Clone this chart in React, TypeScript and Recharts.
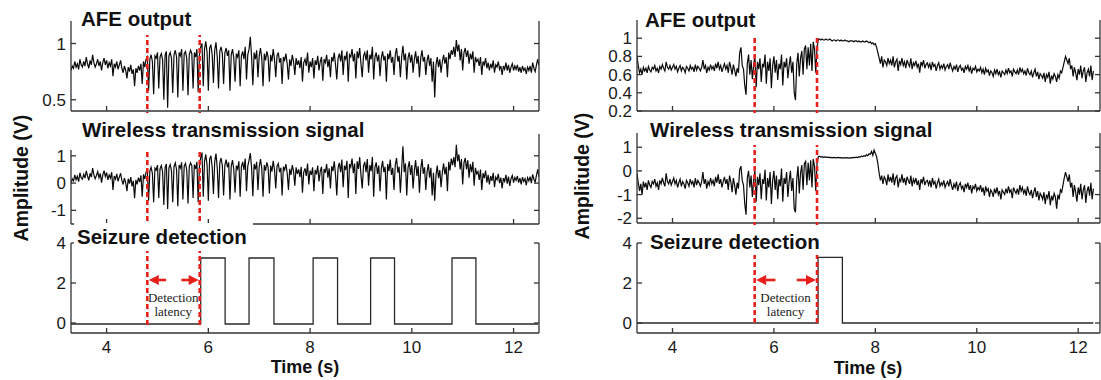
import { LineChart, Line, XAxis, YAxis, ReferenceLine, ReferenceDot } from "recharts"

// ─── Style ─────────────────────────────────────────────────────────────────────

const SANS = '"Liberation Sans", Arial, sans-serif'
const SERIF = '"Liberation Serif", "Times New Roman", serif'
const RED = "#e8201c"
const INK = "#0a0a0a"
const FRAME = "#333"

// ─── Data ──────────────────────────────────────────────────────────────────────

// sampling grid of the recorded traces (s)
const T0 = 3.3
const DT = 0.025

const X_TICKS = [4, 6, 8, 10, 12]

// one row = 0.25 s
const LEFT_AFE = [
    0.76, 0.80, 0.78, 0.84, 0.79, 0.82, 0.77, 0.86, 0.81, 0.79,
    0.84, 0.80, 0.88, 0.82, 0.78, 0.85, 0.81, 0.90, 0.83, 0.79,
    0.82, 0.86, 0.80, 0.84, 0.76, 0.83, 0.87, 0.81, 0.85, 0.78,
    0.83, 0.80, 0.86, 0.71, 0.82, 0.79, 0.84, 0.77, 0.81, 0.85,
    0.78, 0.74, 0.80, 0.76, 0.69, 0.79, 0.75, 0.81, 0.73, 0.77,
    0.62, 0.78, 0.74, 0.80, 0.76, 0.82, 0.64, 0.84, 0.79, 0.86,
    0.88, 0.58, 0.86, 0.90, 0.84, 0.55, 0.89, 0.87, 0.92, 0.60,
    0.88, 0.91, 0.86, 0.50, 0.90, 0.93, 0.43, 0.89, 0.92, 0.87,
    0.56, 0.90, 0.94, 0.88, 0.52, 0.92, 0.89, 0.95, 0.58, 0.91,
    0.93, 0.87, 0.54, 0.90, 0.94, 0.91, 0.60, 0.92, 0.88, 0.95,
    0.57, 0.90, 0.97, 1.00, 0.62, 0.95, 1.02, 0.92, 0.58, 0.96,
    0.99, 0.90, 0.65, 0.94, 1.01, 0.88, 0.60, 0.93, 0.97, 0.91,
    0.64, 0.92, 0.96, 0.89, 0.94, 0.58, 0.90, 0.95, 0.87, 0.66,
    0.91, 0.88, 0.94, 0.62, 0.89, 0.93, 0.86, 0.97, 0.68, 0.90,
    0.95, 1.06, 0.88, 0.63, 0.92, 0.86, 0.94, 0.70, 0.89, 0.96,
    0.87, 0.62, 0.91, 0.85, 0.93, 0.88, 0.66, 0.90, 0.84, 0.95,
    0.86, 0.70, 0.89, 0.92, 0.83, 0.87, 0.64, 0.88, 0.85, 0.91,
    0.82, 0.68, 0.86, 0.80, 0.90, 0.84, 0.72, 0.87, 0.81, 0.85,
    0.78, 0.88, 0.66, 0.83, 0.86, 0.80, 0.92, 0.74, 0.84, 0.79,
    0.87, 0.69, 0.85, 0.81, 0.89, 0.76, 0.84, 0.88, 0.67, 0.86,
    0.83, 0.90, 0.79, 0.86, 0.70, 0.88, 0.84, 0.92, 0.81, 0.68,
    0.87, 0.91, 0.84, 0.94, 0.72, 0.89, 0.86, 0.93, 0.66, 0.90,
    0.88, 0.95, 0.84, 0.91, 0.69, 0.93, 0.87, 0.96, 0.82, 0.70,
    0.89, 0.92, 0.85, 0.94, 0.74, 0.90, 0.86, 0.97, 0.68, 0.88,
    0.92, 0.84, 0.90, 0.71, 0.87, 0.93, 0.85, 0.89, 0.66, 0.91,
    0.86, 0.94, 0.83, 0.88, 0.72, 0.90, 0.96, 0.84, 0.89, 0.70,
    0.88, 0.98, 0.85, 0.91, 0.68, 0.87, 0.92, 0.83, 0.90, 0.74,
    0.86, 0.93, 0.82, 0.89, 0.70, 0.87, 0.94, 0.84, 0.88, 0.72,
    0.85, 0.90, 0.80, 0.87, 0.66, 0.84, 0.52, 0.81, 0.88, 0.79,
    0.86, 0.74, 0.84, 0.90, 0.82, 0.88, 0.70, 0.92, 0.86, 0.94,
    0.90, 0.97, 0.88, 1.03, 0.93, 0.99, 0.85, 0.95, 0.76, 0.92,
    0.96, 0.88, 0.94, 0.82, 0.91, 0.86, 0.93, 0.74, 0.88, 0.84,
    0.86, 0.80, 0.88, 0.72, 0.84, 0.81, 0.87, 0.78, 0.83, 0.76,
    0.82, 0.78, 0.85, 0.74, 0.81, 0.79, 0.84, 0.77, 0.80, 0.72,
    0.80, 0.77, 0.83, 0.76, 0.81, 0.74, 0.79, 0.82, 0.76, 0.80,
    0.77, 0.81, 0.75, 0.79, 0.74, 0.80, 0.76, 0.78, 0.73, 0.79,
    0.76, 0.80, 0.74, 0.83, 0.78, 0.75, 0.81, 0.86, 0.80,
]

const LEFT_WIRELESS = [
    0.00, 0.15, 0.08, 0.30, 0.12, 0.25, 0.05, 0.38, 0.20, 0.14,
    0.32, 0.18, 0.45, 0.26, 0.10, 0.36, 0.22, 0.55, 0.30, 0.16,
    0.28, 0.42, 0.20, 0.35, 0.02, 0.30, 0.46, 0.24, 0.38, 0.12,
    0.30, 0.18, 0.40, -0.25, 0.26, 0.14, 0.34, 0.06, 0.22, 0.36,
    0.10, -0.05, 0.18, 0.02, -0.30, 0.16, -0.02, 0.22, -0.12, 0.08,
    -0.55, 0.12, -0.05, 0.20, 0.04, 0.28, -0.50, 0.32, 0.15, 0.40,
    0.50, -0.65, 0.44, 0.58, 0.36, -0.70, 0.55, 0.48, 0.66, -0.55,
    0.52, 0.64, 0.42, -0.80, 0.58, 0.70, -0.95, 0.56, 0.68, 0.46,
    -0.70, 0.60, 0.74, 0.50, -0.85, 0.66, 0.55, 0.76, -0.60, 0.62,
    0.72, 0.48, -0.75, 0.60, 0.74, 0.64, -0.55, 0.68, 0.52, 0.78,
    -0.70, 0.62, 0.95, 1.12, -0.50, 0.80, 1.05, 0.66, -0.65, 0.88,
    1.00, 0.60, -0.40, 0.78, 1.08, 0.56, -0.55, 0.74, 0.92, 0.64,
    -0.45, 0.66, 0.86, 0.58, 0.76, -0.60, 0.62, 0.84, 0.50, -0.35,
    0.64, 0.52, 0.80, -0.50, 0.60, 0.78, 0.48, 0.90, -0.30, 0.62,
    0.84, 1.10, 0.56, -0.48, 0.70, 0.50, 0.78, -0.25, 0.60, 0.88,
    0.54, -0.50, 0.66, 0.46, 0.76, 0.58, -0.38, 0.64, 0.42, 0.82,
    0.50, -0.20, 0.62, 0.72, 0.40, 0.56, -0.45, 0.60, 0.48, 0.70,
    0.36, -0.25, 0.52, 0.30, 0.66, 0.44, -0.10, 0.58, 0.34, 0.50,
    0.22, 0.60, -0.35, 0.40, 0.54, 0.26, 0.72, -0.05, 0.46, 0.30,
    0.58, -0.30, 0.48, 0.32, 0.64, 0.06, 0.44, 0.60, -0.40, 0.52,
    0.38, 0.70, 0.20, 0.54, -0.20, 0.62, 0.44, 0.80, 0.30, -0.45,
    0.56, 0.74, 0.40, 0.86, -0.15, 0.64, 0.48, 0.82, -0.55, 0.70,
    0.58, 0.90, 0.36, 0.72, -0.40, 0.80, 0.52, 0.95, 0.30, -0.20,
    0.62, 0.78, 0.40, 0.88, -0.10, 0.66, 0.44, 0.96, -0.50, 0.58,
    0.76, 0.34, 0.64, -0.30, 0.52, 0.82, 0.40, 0.60, -0.60, 0.70,
    0.44, 0.86, 0.30, 0.56, -0.25, 0.68, 0.92, 0.38, 0.60, -0.35,
    0.52, 1.35, 0.40, 0.72, -0.45, 0.56, 0.80, 0.30, 0.66, -0.20,
    0.46, 0.84, 0.26, 0.62, -0.35, 0.50, 0.88, 0.34, 0.58, -0.25,
    0.42, 0.70, 0.20, 0.56, -0.45, 0.38, -0.65, 0.28, 0.64, 0.18,
    0.48, -0.15, 0.40, 0.72, 0.32, 0.60, -0.30, 0.78, 0.46, 0.90,
    0.66, 0.95, 0.58, 1.40, 0.80, 1.05, 0.50, 0.88, -0.05, 0.74,
    0.92, 0.50, 0.84, 0.20, 0.70, 0.40, 0.78, -0.10, 0.56, 0.34,
    0.42, 0.12, 0.50, -0.25, 0.36, 0.18, 0.46, 0.02, 0.30, -0.05,
    0.26, 0.08, 0.38, -0.15, 0.22, 0.12, 0.34, 0.00, 0.20, -0.20,
    0.18, 0.06, 0.30, -0.02, 0.24, -0.10, 0.16, 0.28, 0.02, 0.20,
    0.10, 0.26, 0.02, 0.18, -0.05, 0.22, 0.06, 0.16, -0.08, 0.20,
    0.08, 0.24, 0.00, 0.32, 0.14, 0.04, 0.28, 0.50, 0.22,
]

const RIGHT_AFE = [
    0.80, 0.70, 0.62, 0.66, 0.60, 0.68, 0.64, 0.67, 0.62, 0.69,
    0.65, 0.63, 0.68, 0.66, 0.70, 0.64, 0.67, 0.62, 0.69, 0.66,
    0.71, 0.67, 0.64, 0.74, 0.68, 0.66, 0.70, 0.65, 0.68, 0.71,
    0.66, 0.69, 0.63, 0.67, 0.70, 0.64, 0.68, 0.66, 0.62, 0.69,
    0.67, 0.64, 0.70, 0.66, 0.68, 0.63, 0.71, 0.65, 0.69, 0.67,
    0.64, 0.68, 0.76, 0.66, 0.70, 0.62, 0.68, 0.65, 0.71, 0.66,
    0.69, 0.64, 0.72, 0.67, 0.74, 0.66, 0.70, 0.63, 0.68, 0.72,
    0.66, 0.70, 0.62, 0.74, 0.68, 0.60, 0.71, 0.65, 0.58, 0.67,
    0.62, 0.84, 0.90, 0.70, 0.66, 0.48, 0.38, 0.72, 0.82, 0.60,
    0.76, 0.55, 0.70, 0.80, 0.46, 0.74, 0.66, 0.78, 0.52, 0.72,
    0.68, 0.82, 0.50, 0.74, 0.64, 0.78, 0.45, 0.70, 0.80, 0.62,
    0.76, 0.54, 0.72, 0.66, 0.82, 0.48, 0.74, 0.68, 0.78, 0.56,
    0.70, 0.80, 0.62, 0.74, 0.40, 0.32, 0.72, 0.84, 0.58, 0.78,
    0.86, 0.60, 0.88, 0.92, 0.66, 0.90, 0.70, 0.94, 0.64, 0.96,
    0.88, 0.62, 0.90, 0.99, 0.99, 0.98, 0.99, 0.98, 0.98, 0.99,
    0.98, 0.98, 0.99, 0.98, 0.97, 0.98, 0.98, 0.97, 0.98, 0.98,
    0.97, 0.98, 0.97, 0.97, 0.98, 0.97, 0.97, 0.96, 0.97, 0.97,
    0.97, 0.96, 0.97, 0.97, 0.96, 0.97, 0.96, 0.96, 0.97, 0.96,
    0.96, 0.97, 0.96, 0.95, 0.96, 0.94, 0.95, 0.93, 0.94, 0.90,
    0.84, 0.78, 0.72, 0.80, 0.68, 0.76, 0.74, 0.70, 0.78, 0.72,
    0.76, 0.70, 0.80, 0.68, 0.74, 0.77, 0.64, 0.75, 0.71, 0.78,
    0.70, 0.74, 0.67, 0.76, 0.72, 0.69, 0.78, 0.66, 0.73, 0.70,
    0.75, 0.68, 0.72, 0.62, 0.74, 0.70, 0.76, 0.67, 0.71, 0.73,
    0.68, 0.72, 0.65, 0.74, 0.69, 0.71, 0.64, 0.70, 0.73, 0.66,
    0.70, 0.67, 0.72, 0.65, 0.69, 0.71, 0.66, 0.73, 0.68, 0.64,
    0.69, 0.66, 0.71, 0.63, 0.68, 0.70, 0.65, 0.67, 0.62, 0.69,
    0.66, 0.70, 0.64, 0.68, 0.61, 0.67, 0.65, 0.69, 0.63, 0.66,
    0.64, 0.68, 0.62, 0.66, 0.60, 0.67, 0.63, 0.65, 0.59, 0.64,
    0.62, 0.58, 0.65, 0.61, 0.66, 0.60, 0.63, 0.57, 0.64, 0.62,
    0.60, 0.65, 0.61, 0.67, 0.62, 0.64, 0.58, 0.66, 0.63, 0.61,
    0.65, 0.60, 0.68, 0.63, 0.66, 0.61, 0.64, 0.59, 0.67, 0.62,
    0.60, 0.64, 0.57, 0.62, 0.66, 0.58, 0.63, 0.55, 0.61, 0.59,
    0.56, 0.62, 0.52, 0.60, 0.57, 0.63, 0.50, 0.59, 0.55, 0.61,
    0.58, 0.52, 0.60, 0.56, 0.64, 0.62, 0.68, 0.74, 0.80, 0.76,
    0.72, 0.78, 0.66, 0.70, 0.58, 0.68, 0.62, 0.54, 0.66, 0.60,
    0.70, 0.56, 0.64, 0.68, 0.52, 0.62, 0.66, 0.58, 0.70, 0.54,
    0.64,
]

const RIGHT_WIRELESS = [
    -0.10, -0.50, -0.85, -0.55, -1.00, -0.45, -0.70, -0.50, -0.80, -0.40,
    -0.60, -0.70, -0.45, -0.55, -0.35, -0.65, -0.50, -0.80, -0.40, -0.55,
    -0.30, -0.50, -0.65, -0.10, -0.45, -0.55, -0.35, -0.60, -0.45, -0.30,
    -0.55, -0.40, -0.70, -0.50, -0.35, -0.65, -0.45, -0.55, -0.75, -0.40,
    -0.50, -0.65, -0.35, -0.55, -0.45, -0.70, -0.30, -0.60, -0.40, -0.50,
    -0.65, -0.45, -0.05, -0.55, -0.35, -0.75, -0.45, -0.60, -0.30, -0.55,
    -0.40, -0.65, -0.25, -0.50, -0.15, -0.55, -0.35, -0.70, -0.45, -0.25,
    -0.55, -0.35, -0.80, -0.20, -0.45, -0.90, -0.30, -0.60, -1.00, -0.50,
    -0.75, 0.05, 0.20, -0.40, -0.60, -1.40, -1.85, -0.30, 0.00, -0.70,
    -0.20, -1.10, -0.40, 0.00, -1.30, -0.25, -0.60, -0.10, -1.20, -0.35,
    -0.55, 0.05, -1.25, -0.30, -0.70, -0.05, -1.40, -0.40, 0.00, -0.80,
    -0.20, -1.20, -0.35, -0.65, 0.10, -1.30, -0.30, -0.55, -0.05, -1.10,
    -0.45, 0.00, -0.85, -0.30, -1.60, -1.75, -0.35, 0.20, -0.95, -0.10,
    0.25, -0.80, 0.30, 0.40, -0.60, 0.35, -0.40, 0.45, -0.70, 0.50,
    0.20, -0.85, 0.30, 0.60, 0.62, 0.58, 0.60, 0.57, 0.59, 0.58,
    0.57, 0.58, 0.56, 0.57, 0.55, 0.57, 0.56, 0.55, 0.56, 0.57,
    0.55, 0.56, 0.55, 0.54, 0.56, 0.55, 0.56, 0.54, 0.55, 0.56,
    0.55, 0.57, 0.56, 0.58, 0.56, 0.60, 0.58, 0.62, 0.60, 0.64,
    0.62, 0.68, 0.64, 0.72, 0.70, 0.82, 0.66, 0.88, 0.74, 0.60,
    0.30, -0.10, -0.40, -0.20, -0.55, -0.25, -0.35, -0.60, -0.15, -0.45,
    -0.25, -0.50, -0.10, -0.60, -0.30, -0.20, -0.70, -0.35, -0.45, -0.15,
    -0.50, -0.30, -0.60, -0.25, -0.40, -0.55, -0.20, -0.65, -0.35, -0.50,
    -0.30, -0.60, -0.40, -0.80, -0.35, -0.50, -0.25, -0.60, -0.45, -0.40,
    -0.60, -0.40, -0.70, -0.30, -0.55, -0.45, -0.75, -0.50, -0.35, -0.65,
    -0.50, -0.60, -0.40, -0.70, -0.55, -0.45, -0.65, -0.35, -0.60, -0.80,
    -0.55, -0.70, -0.45, -0.85, -0.60, -0.50, -0.75, -0.65, -0.90, -0.55,
    -0.70, -0.50, -0.80, -0.60, -0.95, -0.65, -0.75, -0.55, -0.85, -0.70,
    -0.80, -0.60, -0.90, -0.70, -1.05, -0.65, -0.85, -0.75, -1.10, -0.80,
    -0.90, -1.10, -0.75, -0.95, -0.70, -1.00, -0.85, -1.20, -0.80, -0.90,
    -1.00, -0.75, -0.95, -0.65, -0.90, -0.80, -1.15, -0.70, -0.85, -0.95,
    -0.75, -1.00, -0.60, -0.85, -0.70, -0.95, -0.80, -1.05, -0.65, -0.90,
    -1.00, -0.80, -1.15, -0.90, -0.70, -1.10, -0.85, -1.25, -0.95, -1.05,
    -1.20, -0.90, -1.40, -1.00, -1.15, -0.85, -1.45, -1.05, -1.25, -0.95,
    -1.10, -1.60, -1.00, -1.20, -0.80, -0.90, -0.60, -0.30, -0.05, -0.25,
    -0.45, -0.15, -0.70, -0.50, -1.10, -0.60, -0.90, -1.30, -0.70, -1.00,
    -0.55, -1.20, -0.80, -0.60, -1.35, -0.85, -0.65, -1.05, -0.50, -1.20,
    -0.75,
]

// seizure detector output: pulse edges (s) and levels (V)
const LEFT_PULSE_ON = [5.85, 6.8, 8.06, 9.19, 10.79]
const LEFT_PULSE_OFF = [6.33, 7.29, 8.54, 9.66, 11.26]
const LEFT_LOW = -0.05
const LEFT_HIGH = 3.25
const LEFT_END = 12.48

const RIGHT_PULSE_ON = [6.87]
const RIGHT_PULSE_OFF = [7.35]
const RIGHT_LOW = 0
const RIGHT_HIGH = 3.28
const RIGHT_END = 12.3

// seizure onset / detection instants (s)
const LEFT_MARKERS = [4.8, 5.83]
const RIGHT_MARKERS = [5.62, 6.85]

// latency arrows: tail -> tip (s), drawn at ARROW_LEVEL (V)
const LEFT_ARROW_TAIL = [5.17, 5.47]
const LEFT_ARROW_TIP = [4.83, 5.81]
const RIGHT_ARROW_TAIL = [6.03, 6.45]
const RIGHT_ARROW_TIP = [5.65, 6.83]
const ARROW_LEVEL = 2.15

// "Detection latency" note anchors (s, V)
const LEFT_NOTE_T = 5.31
const RIGHT_NOTE_T = 6.23
const NOTE_LINES = ["Detection", "latency"]
const NOTE_LEVELS = [1.3, 0.56]

// ─── Helpers ───────────────────────────────────────────────────────────────────

type Row = { t: number; v: number }

const toRows = (values: number[]): Row[] =>
    values.map((v, i) => ({ t: +(T0 + i * DT).toFixed(3), v }))

const stepRows = (on: number[], off: number[], low: number, high: number, end: number): Row[] => {
    const rows: Row[] = [{ t: T0, v: low }]
    on.forEach((t, i) => {
        rows.push({ t, v: low }, { t, v: high }, { t: off[i], v: high }, { t: off[i], v: low })
    })
    rows.push({ t: end, v: low })
    return rows
}

type Box = { left: number; top: number; width: number; height: number }

const YW = 48
const PAD = 12

const tickText = { fill: "#1a1a1a", fontSize: 17, fontFamily: SANS }
const frameLine = { stroke: FRAME, strokeWidth: 1.3 }
const blank = () => ""

function Arrow(props: any) {
    const { x1, y1, x2, y2 } = props
    const dir = Math.sign(x2 - x1)
    return (
        <g>
            <line x1={x1} y1={y1} x2={x2 - dir * 7} y2={y2} stroke={RED} strokeWidth={2.6} />
            <polygon
                points={`${x2},${y2} ${x2 - dir * 10},${y2 - 5} ${x2 - dir * 10},${y2 + 5}`}
                fill={RED}
            />
        </g>
    )
}

type SubplotProps = {
    box: Box
    data: Row[]
    xDomain: [number, number]
    yDomain: [number, number]
    yTicks: number[]
    showX?: boolean
    stroke?: string
    strokeWidth?: number
    children?: React.ReactNode
}

function Subplot({ box, data, xDomain, yDomain, yTicks, showX, stroke = INK, strokeWidth = 1.2, children }: SubplotProps) {
    const xh = showX ? 32 : PAD
    return (
        <div style={{ position: "absolute", left: box.left - YW, top: box.top - PAD }}>
            <LineChart
                width={YW + box.width + 1 + 4}
                height={PAD + box.height + xh}
                data={data}
                margin={{ top: PAD, right: 4, bottom: 0, left: 0 }}
            >
                <XAxis
                    dataKey="t"
                    type="number"
                    domain={xDomain}
                    ticks={X_TICKS}
                    interval={0}
                    allowDataOverflow
                    height={xh}
                    tickSize={-5}
                    tickMargin={13}
                    axisLine={frameLine}
                    tickLine={frameLine}
                    tick={tickText}
                    tickFormatter={showX ? (v: number) => String(v) : blank}
                />
                <XAxis
                    xAxisId="top"
                    orientation="top"
                    type="number"
                    domain={xDomain}
                    ticks={X_TICKS}
                    interval={0}
                    allowDataOverflow
                    height={0}
                    tickSize={-5}
                    axisLine={frameLine}
                    tickLine={frameLine}
                    tickFormatter={blank}
                />
                <YAxis
                    type="number"
                    domain={yDomain}
                    ticks={yTicks}
                    interval={0}
                    allowDataOverflow
                    width={YW}
                    tickSize={-5}
                    tickMargin={10}
                    axisLine={frameLine}
                    tickLine={frameLine}
                    tick={tickText}
                />
                <YAxis
                    yAxisId="r"
                    orientation="right"
                    type="number"
                    domain={yDomain}
                    ticks={yTicks}
                    interval={0}
                    allowDataOverflow
                    width={1}
                    tickSize={-5}
                    axisLine={frameLine}
                    tickLine={frameLine}
                    tickFormatter={blank}
                />
                <Line
                    dataKey="v"
                    type="linear"
                    stroke={stroke}
                    strokeWidth={strokeWidth}
                    dot={false}
                    activeDot={false}
                    isAnimationActive={false}
                />
                {children}
            </LineChart>
        </div>
    )
}

// red dashed onset/detection markers running through the three stacked axes
function Markers({ left, top, width, height, xDomain, markers }: {
    left: number; top: number; width: number; height: number; xDomain: [number, number]; markers: number[]
}) {
    return (
        <div style={{ position: "absolute", left, top }}>
            <LineChart width={width} height={height} data={[]} margin={{ top: 0, right: 0, bottom: 0, left: 0 }}>
                <XAxis type="number" dataKey="t" domain={xDomain} allowDataOverflow hide />
                <YAxis type="number" domain={[0, 1]} allowDataOverflow hide />
                {markers.map((m) => (
                    <ReferenceLine key={m} x={m} stroke={RED} strokeWidth={2.6} strokeDasharray="5 3" />
                ))}
            </LineChart>
        </div>
    )
}

type TitleProps = {
    text: string
    textLeft: number
    capTop: number
    mask: { left: number; top: number; right: number; bottom: number }
}

function Title({ text, textLeft, capTop, mask }: TitleProps) {
    return (
        <div
            style={{
                position: "absolute",
                left: mask.left,
                top: mask.top,
                width: mask.right - mask.left,
                height: mask.bottom - mask.top,
                background: "#fff",
            }}
        >
            <div
                style={{
                    position: "absolute",
                    left: textLeft - mask.left,
                    top: capTop - 2.7 - mask.top,
                    fontFamily: SANS,
                    fontWeight: 700,
                    fontSize: 20.5,
                    lineHeight: 1,
                    whiteSpace: "nowrap",
                    color: "#111",
                }}
            >
                {text}
            </div>
        </div>
    )
}

function YLabel({ cx, cy }: { cx: number; cy: number }) {
    return (
        <div
            style={{
                position: "absolute",
                left: cx,
                top: cy,
                transform: "translate(-50%, -50%) rotate(-90deg)",
                fontFamily: SANS,
                fontWeight: 700,
                fontSize: 19.5,
                whiteSpace: "nowrap",
                color: "#111",
            }}
        >
            Amplitude (V)
        </div>
    )
}

function XLabel({ cx, cy }: { cx: number; cy: number }) {
    return (
        <div
            style={{
                position: "absolute",
                left: cx,
                top: cy,
                transform: "translate(-50%, -50%)",
                fontFamily: SANS,
                fontWeight: 700,
                fontSize: 18,
                whiteSpace: "nowrap",
                color: "#111",
            }}
        >
            Time (s)
        </div>
    )
}

function LatencyNote({ tails, tips, noteT }: { tails: number[]; tips: number[]; noteT: number }) {
    return (
        <>
            {tails.map((tail, i) => (
                <ReferenceLine
                    key={`a${i}`}
                    segment={[{ x: tail, y: ARROW_LEVEL }, { x: tips[i], y: ARROW_LEVEL }]}
                    stroke={RED}
                    shape={Arrow}
                />
            ))}
            {NOTE_LINES.map((line, i) => (
                <ReferenceDot
                    key={line}
                    x={noteT}
                    y={NOTE_LEVELS[i]}
                    r={0}
                    fill="none"
                    stroke="none"
                    label={{ value: line, position: "center", fontSize: 13, fontFamily: SERIF, fill: "#222" }}
                />
            ))}
        </>
    )
}

// ─── Component ─────────────────────────────────────────────────────────────────

const LEFT_X: [number, number] = [3.3, 12.5]
const RIGHT_X: [number, number] = [3.3, 12.43]

export default function App() {
    const leftAfe = toRows(LEFT_AFE)
    const leftWireless = toRows(LEFT_WIRELESS)
    const leftSeizure = stepRows(LEFT_PULSE_ON, LEFT_PULSE_OFF, LEFT_LOW, LEFT_HIGH, LEFT_END)
    const rightAfe = toRows(RIGHT_AFE)
    const rightWireless = toRows(RIGHT_WIRELESS)
    const rightSeizure = stepRows(RIGHT_PULSE_ON, RIGHT_PULSE_OFF, RIGHT_LOW, RIGHT_HIGH, RIGHT_END)

    const lw = 468
    const rw = 463

    return (
        <div
            style={{
                position: "absolute",
                left: 0,
                top: 0,
                width: 1101,
                height: 380,
                overflow: "hidden",
                background: "#fff",
            }}
        >
            {/* left panel */}
            <Subplot box={{ left: 71, top: 21, width: lw, height: 90 }} data={leftAfe} xDomain={LEFT_X} yDomain={[0.4, 1.2]} yTicks={[0.5, 1]} />
            <Subplot box={{ left: 71, top: 134, width: lw, height: 90 }} data={leftWireless} xDomain={LEFT_X} yDomain={[-1.5, 1.8]} yTicks={[-1, 0, 1]} />
            <Subplot box={{ left: 71, top: 243, width: lw, height: 90 }} data={leftSeizure} xDomain={LEFT_X} yDomain={[-0.5, 4]} yTicks={[0, 2, 4]} showX stroke="#2a2a2a" strokeWidth={1.3}>
                <LatencyNote tails={LEFT_ARROW_TAIL} tips={LEFT_ARROW_TIP} noteT={LEFT_NOTE_T} />
            </Subplot>
            <Markers left={71} top={35} width={lw} height={290} xDomain={LEFT_X} markers={LEFT_MARKERS} />
            <Title text="AFE output" textLeft={81} capTop={12} mask={{ left: 77, top: 5, right: 199, bottom: 29 }} />
            <Title text="Wireless transmission signal" textLeft={82} capTop={123} mask={{ left: 66, top: 113, right: 369, bottom: 150 }} />
            <Title text="Seizure detection" textLeft={77} capTop={230} mask={{ left: 74, top: 223, right: 253, bottom: 251 }} />
            <YLabel cx={21} cy={178} />
            <XLabel cx={305} cy={367} />

            {/* right panel */}
            <Subplot box={{ left: 637, top: 20, width: rw, height: 91 }} data={rightAfe} xDomain={RIGHT_X} yDomain={[0.2, 1.2]} yTicks={[0.2, 0.4, 0.6, 0.8, 1]} />
            <Subplot box={{ left: 637, top: 133, width: rw, height: 90 }} data={rightWireless} xDomain={RIGHT_X} yDomain={[-2.2, 1.6]} yTicks={[-2, -1, 0, 1]} />
            <Subplot box={{ left: 637, top: 243, width: rw, height: 90 }} data={rightSeizure} xDomain={RIGHT_X} yDomain={[-0.5, 4]} yTicks={[0, 2, 4]} showX stroke="#2a2a2a" strokeWidth={1.3}>
                <LatencyNote tails={RIGHT_ARROW_TAIL} tips={RIGHT_ARROW_TIP} noteT={RIGHT_NOTE_T} />
            </Subplot>
            <Markers left={637} top={35} width={rw} height={288} xDomain={RIGHT_X} markers={RIGHT_MARKERS} />
            <Title text="AFE output" textLeft={645} capTop={13} mask={{ left: 641, top: 6, right: 767, bottom: 30 }} />
            <Title text="Wireless transmission signal" textLeft={650} capTop={123} mask={{ left: 645, top: 113, right: 945, bottom: 145 }} />
            <Title text="Seizure detection" textLeft={650} capTop={235} mask={{ left: 645, top: 225, right: 826, bottom: 255 }} />
            <YLabel cx={582} cy={176} />
            <XLabel cx={868} cy={368} />
        </div>
    )
}
